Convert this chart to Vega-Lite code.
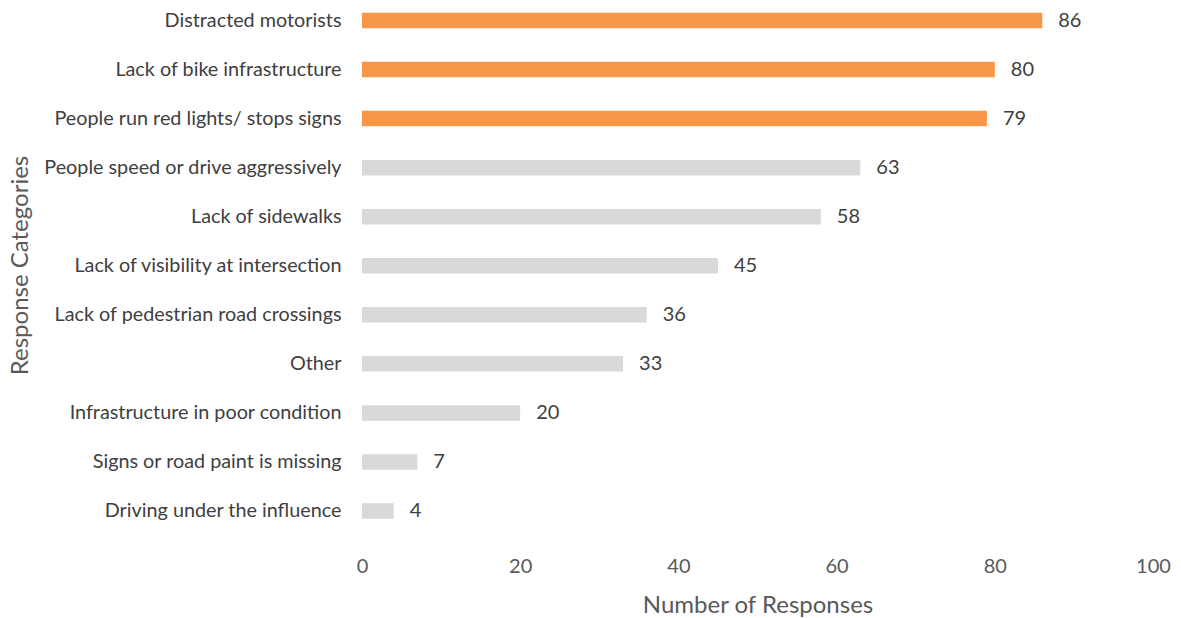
{
  "$schema": "https://vega.github.io/schema/vega-lite/v6.json",
  "autosize": {"type": "none"},
  "width": 791,
  "height": 531.5,
  "padding": {"left": 362, "top": 0, "right": 28, "bottom": 86.5},
  "background": "white",
  "config": {"view": {"stroke": null}, "font": "Lato"},
  "data": {
    "values": [
      {"category": "Distracted motorists", "responses": 86, "group": "top"},
      {"category": "Lack of bike infrastructure", "responses": 80, "group": "top"},
      {"category": "People run red lights/ stops signs", "responses": 79, "group": "top"},
      {"category": "People speed or drive aggressively", "responses": 63, "group": "rest"},
      {"category": "Lack of sidewalks", "responses": 58, "group": "rest"},
      {"category": "Lack of visibility at intersection", "responses": 45, "group": "rest"},
      {"category": "Lack of pedestrian road crossings", "responses": 36, "group": "rest"},
      {"category": "Other", "responses": 33, "group": "rest"},
      {"category": "Infrastructure in poor condition", "responses": 20, "group": "rest"},
      {"category": "Signs or road paint is missing", "responses": 7, "group": "rest"},
      {"category": "Driving under the influence", "responses": 4, "group": "rest"}
    ]
  },
  "encoding": {
    "y": {
      "field": "category",
      "type": "nominal",
      "sort": null,
      "scale": {"paddingInner": 0.684, "paddingOuter": 0.26},
      "axis": {
        "title": "Response Categories",
        "titleFont": "Lato",
        "titleFontSize": 24,
        "titleFontWeight": "normal",
        "titleColor": "#595959",
        "titleX": -342,
        "titleY": 265,
        "titleAlign": "center",
        "titleBaseline": "middle",
        "titleAngle": -90,
        "labelFont": "Lato",
        "labelFontSize": 19.8,
        "labelColor": "#404040",
        "labelPadding": 21,
        "ticks": false,
        "domain": false,
        "labelLimit": 400
      }
    },
    "x": {
      "field": "responses",
      "type": "quantitative",
      "scale": {"domain": [0, 100], "nice": false},
      "axis": {
        "values": [0, 20, 40, 60, 80, 100],
        "title": "Number of Responses",
        "titleFont": "Lato",
        "titleFontSize": 24,
        "titleFontWeight": "normal",
        "titleColor": "#595959",
        "titlePadding": 17,
        "labelFont": "Lato",
        "labelFontSize": 20,
        "labelColor": "#595959",
        "labelPadding": 25,
        "labelFlush": false,
        "labelOverlap": false,
        "ticks": false,
        "domain": false,
        "grid": false
      }
    }
  },
  "layer": [
    {
      "mark": {"type": "bar"},
      "encoding": {
        "color": {
          "field": "group",
          "type": "nominal",
          "scale": {"domain": ["top", "rest"], "range": ["#F79646", "#D9D9D9"]},
          "legend": null
        }
      }
    },
    {
      "mark": {"type": "text", "align": "left", "baseline": "middle", "dx": 16, "font": "Lato", "fontSize": 20, "color": "#404040"},
      "encoding": {"text": {"field": "responses", "type": "quantitative"}}
    }
  ]
}
